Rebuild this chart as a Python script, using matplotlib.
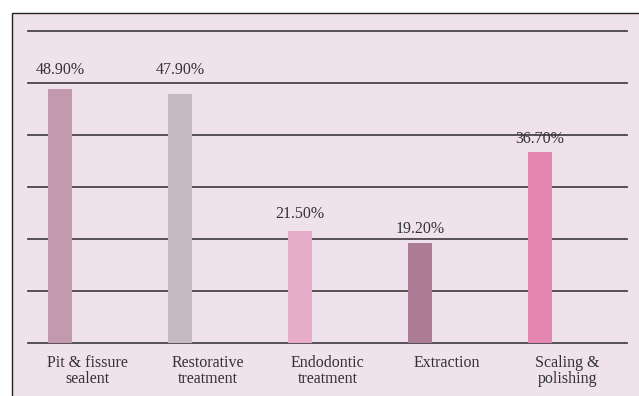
import matplotlib
matplotlib.use("Agg")
import matplotlib.pyplot as plt
from matplotlib.patches import Rectangle

categories = ["Pit & fissure\nsealent", "Restorative\ntreatment", "Endodontic\ntreatment",
              "Extraction", "Scaling &\npolishing"]
values = [48.9, 47.9, 21.5, 19.2, 36.7]
value_labels = ["48.90%", "47.90%", "21.50%", "19.20%", "36.70%"]
y_ticks = [0, 10, 20, 30, 40, 50, 60]

bar_colors = ["#c399ad", "#c4b8c1", "#e7adc8", "#ab7c94", "#e386b2"]
label_offsets_px = [11, 16, 9, 6, 5]
bg = "#f0e2ea"
grid_c = "#4a4448"
text_c = "#333333"
font = ["Liberation Serif", "DejaVu Serif"]

W, H = 639, 396
fig = plt.figure(figsize=(W / 100, H / 100), dpi=100)
fig.patch.set_facecolor("white")

# outer frame
frame = Rectangle((12 / W, -0.05), 1.1, (H - 13) / H + 0.05, transform=fig.transFigure,
                  facecolor=bg, edgecolor="#222222", linewidth=1.0, zorder=-10)
fig.patches.append(frame)

ax = fig.add_axes([28 / W, (H - 343) / H, (627 - 28) / W, (343 - 31) / H])
ax.set_facecolor("none")
ax.set_zorder(5)

xs = list(range(len(values)))
bar_x = [i - 0.23 for i in xs]
bars = ax.bar(bar_x, values, width=0.2, color=bar_colors, zorder=3)

ax.set_xlim(-0.5, len(values) - 0.5)
ax.set_ylim(0, 60)
ax.set_yticks(y_ticks)
ax.yaxis.grid(True, color=grid_c, linewidth=1.3, zorder=1)
ax.set_axisbelow(True)
for gl in ax.get_ygridlines():
    gl.set_clip_on(False)
ax.tick_params(axis="y", length=0, labelleft=False)
for s in ax.spines.values():
    s.set_visible(False)

ax.set_xticks(xs)
ax.set_xticklabels(categories, fontsize=11.5, family=font, color=text_c)
ax.tick_params(axis="x", length=0, pad=8.5)
for t in ax.get_xticklabels():
    t.set_linespacing(1.02)

for b, lab, off in zip(bars, value_labels, label_offsets_px):
    ax.annotate(lab, (b.get_x() + b.get_width() / 2, b.get_height()),
                xytext=(0, off * 0.72), textcoords="offset points",
                ha="center", va="bottom", fontsize=11.5, family=font, color=text_c)

fig.savefig("out.png", dpi=100, facecolor=fig.get_facecolor())
